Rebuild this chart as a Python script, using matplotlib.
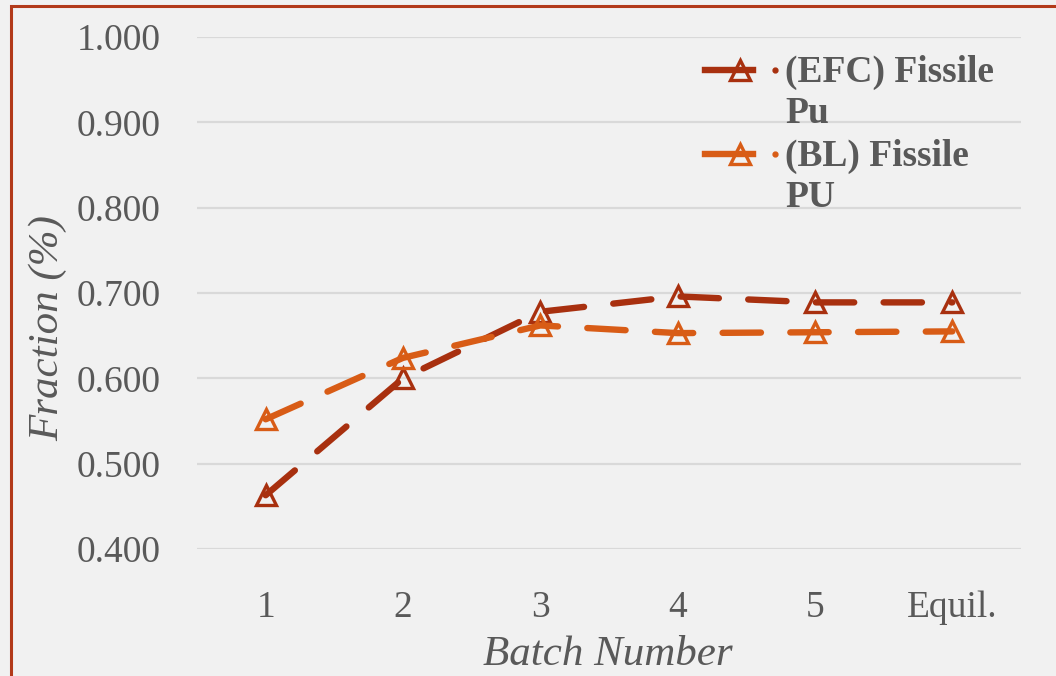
import matplotlib
matplotlib.use("Agg")
import matplotlib.pyplot as plt
from matplotlib.patches import Rectangle
from matplotlib.lines import Line2D
from matplotlib.ticker import FormatStrFormatter

# batch-wise fissile plutonium fraction
batches = ["1", "2", "3", "4", "5", "Equil."]
efc_fissile_pu = [0.463, 0.600, 0.678, 0.696, 0.689, 0.689]
bl_fissile_pu = [0.552, 0.624, 0.662, 0.653, 0.654, 0.655]

series_names = ["(EFC) Fissile", "(BL) Fissile"]
series_tails = ["Pu", "PU"]
series_colors = ["#A8300F", "#D85C16"]

TEXT = "#595959"
BG = "#F1F1F1"

plt.rcParams["font.family"] = ["Liberation Serif", "DejaVu Serif"]

fig = plt.figure(figsize=(10.56, 6.76), dpi=100, facecolor=BG)
ax = fig.add_axes([197 / 1056, 1 - 549 / 676, 824 / 1056, 512 / 676])
ax.set_facecolor(BG)

x = list(range(len(batches)))
for vals, col in zip([efc_fissile_pu, bl_fissile_pu], series_colors):
    ax.plot(x, vals, color=col, lw=4.6, dashes=(6.0, 4.6), dash_capstyle="round",
            marker="^", ms=14.5, mfc="none", mec=col, mew=2.4, zorder=3)

ax.set_xlim(-0.5, len(batches) - 0.5)
ax.set_ylim(0.4, 1.0)
ax.set_yticks([0.4, 0.5, 0.6, 0.7, 0.8, 0.9, 1.0])
ax.yaxis.set_major_formatter(FormatStrFormatter("%.3f"))
ax.set_xticks(x)
ax.set_xticklabels(batches)
ax.grid(axis="y", color="#D9D9D9", lw=1.6)
ax.set_axisbelow(True)
for s in ax.spines.values():
    s.set_visible(False)
ax.tick_params(length=0, labelsize=27, colors=TEXT)
ax.tick_params(axis="y", pad=26)
ax.tick_params(axis="x", pad=30)

ax.set_xlabel("Batch Number", fontsize=31, style="italic", color=TEXT)
ax.set_ylabel("Fraction (%)", fontsize=31, style="italic", color=TEXT)
ax.xaxis.set_label_coords(0.499, -0.168)
ax.yaxis.set_label_coords(-0.158, 0.432)

# legend drawn by hand so the key sits on the first text line
def px(xp, yp):
    return ((xp - 197) / 824, (549 - yp) / 512)

keys_y = [70, 154]
first_base = [82, 166]
for name, tail, col, ky, by in zip(series_names, series_tails, series_colors, keys_y, first_base):
    x0, y0 = px(705, ky)
    x1, _ = px(753, ky)
    xm, _ = px(740, ky)
    xd, _ = px(775, ky)
    ax.add_line(Line2D([x0, x1], [y0, y0], color=col, lw=4.6, transform=ax.transAxes,
                       clip_on=False, zorder=4))
    ax.add_line(Line2D([xm], [y0], marker="^", ms=14.5, mfc="none", mec=col, mew=2.4,
                       ls="none", transform=ax.transAxes, clip_on=False, zorder=4))
    ax.add_line(Line2D([xd], [y0], marker="o", ms=3.5, color=col, ls="none",
                       transform=ax.transAxes, clip_on=False, zorder=4))
    tx, ty = px(785, by)
    ax.text(tx, ty, name, transform=ax.transAxes, fontsize=27, fontweight="bold",
            color=TEXT, va="baseline", ha="left")
    tx, ty = px(785, by + 41)
    ax.text(tx, ty, tail, transform=ax.transAxes, fontsize=27, fontweight="bold",
            color=TEXT, va="baseline", ha="left")

# slide frame
fig.patches.append(Rectangle((11 / 1056, -0.1), 1.2, 1.1 - 6 / 676, fill=False,
                             ec="#B23A1A", lw=2.2, transform=fig.transFigure))

fig.savefig("out.png", dpi=100, facecolor=BG)
